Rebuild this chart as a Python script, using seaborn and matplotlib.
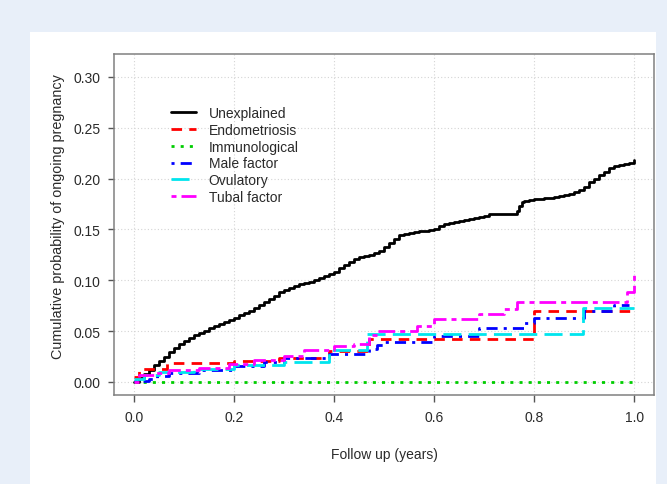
import matplotlib
matplotlib.use("Agg")
import matplotlib.pyplot as plt
from matplotlib.patches import Rectangle
import seaborn as sns
import pandas as pd

# ---- data ----
unexpl_t = [0, 0.01, 0.02, 0.03, 0.04, 0.05, 0.06, 0.07, 0.08, 0.09,
            0.10, 0.11, 0.12, 0.13, 0.14, 0.15, 0.16, 0.17, 0.18, 0.19,
            0.20, 0.21, 0.22, 0.23, 0.24, 0.25, 0.26, 0.27, 0.28, 0.29,
            0.30, 0.31, 0.32, 0.33, 0.34, 0.35, 0.36, 0.37, 0.38, 0.39,
            0.40, 0.41, 0.42, 0.43, 0.44, 0.45, 0.46, 0.47, 0.48, 0.49,
            0.50, 0.51, 0.52, 0.53, 0.54, 0.55, 0.56, 0.57, 0.58, 0.59,
            0.60, 0.61, 0.62, 0.63, 0.64, 0.65, 0.66, 0.67, 0.68, 0.69,
            0.70, 0.71, 0.765, 0.77, 0.775, 0.78, 0.79, 0.80, 0.82, 0.84,
            0.85, 0.86, 0.87, 0.88, 0.89, 0.90, 0.91, 0.92, 0.93, 0.94,
            0.95, 0.96, 0.97, 0.98, 0.99, 1.0]
unexpl_v = [0.000, 0.004, 0.008, 0.012, 0.017, 0.021, 0.025, 0.029, 0.033, 0.037,
            0.040, 0.043, 0.046, 0.048, 0.050, 0.053, 0.055, 0.057, 0.059, 0.061,
            0.063, 0.066, 0.068, 0.070, 0.073, 0.076, 0.079, 0.082, 0.085, 0.088,
            0.090, 0.092, 0.094, 0.096, 0.097, 0.098, 0.100, 0.102, 0.104, 0.106,
            0.108, 0.112, 0.115, 0.118, 0.121, 0.123, 0.124, 0.125, 0.127, 0.129,
            0.133, 0.137, 0.141, 0.144, 0.145, 0.146, 0.147, 0.148, 0.148, 0.149,
            0.150, 0.153, 0.155, 0.156, 0.157, 0.158, 0.159, 0.160, 0.161, 0.162,
            0.163, 0.165, 0.168, 0.173, 0.177, 0.178, 0.179, 0.180, 0.181, 0.182,
            0.183, 0.184, 0.185, 0.187, 0.189, 0.192, 0.197, 0.200, 0.203, 0.206,
            0.210, 0.212, 0.213, 0.214, 0.215, 0.218]

endo_t = [0, 0.01, 0.065, 0.20, 0.29, 0.39, 0.47, 0.80, 1.0]
endo_v = [0.005, 0.013, 0.019, 0.021, 0.024, 0.030, 0.042, 0.070, 0.070]

immuno_t = [0, 1.0]
immuno_v = [0.0, 0.0]

male_t = [0, 0.03, 0.045, 0.07, 0.13, 0.20, 0.26, 0.30, 0.39, 0.47, 0.485, 0.50, 0.60, 0.69,
          0.78, 0.80, 0.90, 0.96, 0.99]
male_v = [0.001, 0.003, 0.006, 0.009, 0.012, 0.016, 0.020, 0.024, 0.028, 0.032, 0.036, 0.039,
          0.045, 0.053, 0.058, 0.063, 0.070, 0.076, 0.076]

ovul_t = [0, 0.02, 0.05, 0.12, 0.20, 0.30, 0.39, 0.465, 0.898, 1.0]
ovul_v = [0.003, 0.007, 0.0095, 0.013, 0.017, 0.020, 0.031, 0.047, 0.073, 0.073]

tubal_t = [0, 0.01, 0.04, 0.07, 0.13, 0.19, 0.24, 0.30, 0.34, 0.40, 0.44, 0.47, 0.485, 0.565,
           0.60, 0.69, 0.74, 0.765, 0.985, 1.0]
tubal_v = [0.000, 0.007, 0.009, 0.012, 0.014, 0.018, 0.022, 0.026, 0.031, 0.035, 0.037, 0.046,
           0.050, 0.055, 0.062, 0.067, 0.072, 0.079, 0.088, 0.106]

labels = ["Unexplained", "Endometriosis", "Immunological", "Male factor", "Ovulatory", "Tubal factor"]
series = [(unexpl_t, unexpl_v), (endo_t, endo_v), (immuno_t, immuno_v),
          (male_t, male_v), (ovul_t, ovul_v), (tubal_t, tubal_v)]
colors = ["#000000", "#ff0000", "#00cd00", "#0000ff", "#00e5ee", "#ff00ff"]
styles = ["-", (0, (3.8, 2.6)), (0, (1.1, 2.2)), (0, (1.1, 2.2, 4.0, 2.2)),
          (0, (6.5, 2.6)), (0, (1.8, 1.8, 6.0, 1.8))]

xticks = [0.0, 0.2, 0.4, 0.6, 0.8, 1.0]
yticks = [0.00, 0.05, 0.10, 0.15, 0.20, 0.25, 0.30]

# ---- styling ----
sns.set_style("white")
plt.rcParams["font.family"] = ["Liberation Sans", "DejaVu Sans"]
txt = "#2a2a2a"

W, H = 667, 485
fig = plt.figure(figsize=(W / 100, H / 100), dpi=100, facecolor="#e8eff9")
panel = Rectangle((30 / W, 0), (656 - 30) / W, (H - 33) / H,
                  transform=fig.transFigure, facecolor="white",
                  edgecolor="none", zorder=-10)
fig.add_artist(panel)

ax = fig.add_axes([114.4 / W, 1 - 395.6 / H, 540 / W, 340.6 / H])
ax.set_zorder(5)
ax.set_facecolor("white")

for (t, v), lab, col, ls in zip(series, labels, colors, styles):
    df = pd.DataFrame({"t": t, "v": v})
    sns.lineplot(data=df, x="t", y="v", ax=ax, estimator=None, sort=False,
                 drawstyle="steps-post", color=col, linestyle=ls, linewidth=2.0,
                 label=lab, legend=False)

ax.set_xlim(-0.04, 1.04)
ax.set_ylim(-0.0124, 0.3224)
ax.set_xticks(xticks)
ax.set_xticklabels([f"{x:.1f}" for x in xticks])
ax.set_yticks(yticks)
ax.set_yticklabels([f"{y:.2f}" for y in yticks])
ax.grid(True, color="#d4d4d4", linestyle=(0, (1, 2)), linewidth=0.8)
ax.set_axisbelow(True)

for s in ax.spines.values():
    s.set_visible(True)
    s.set_color("#808080")
    s.set_linewidth(1.1)

ax.tick_params(axis="x", direction="out", length=4.7, width=1.0, color="#555555",
               pad=6.5, labelsize=10, labelcolor=txt, bottom=True)
ax.tick_params(axis="y", direction="out", length=4.5, width=1.0, color="#555555",
               pad=5.5, labelsize=10, labelcolor=txt, left=True)

ax.set_xlabel("Follow up (years)", fontsize=10, color=txt)
ax.xaxis.set_label_coords(0.5, (395.6 - 455) / 340.6)
ax.xaxis.label.set_va("center")
ax.set_ylabel("Cumulative probability of ongoing pregnancy", fontsize=10.4, color=txt)
ax.yaxis.set_label_coords((58 - 114.4) / 540, (395.6 - 217) / 340.6)
ax.yaxis.label.set_va("center")

handles = ax.get_lines()[:len(labels)]
leg = ax.legend(handles, labels, loc="upper left", bbox_to_anchor=(0.105, 0.847),
                frameon=False, borderpad=0, borderaxespad=0, handlelength=1.8,
                handletextpad=0.9, labelspacing=0.2, fontsize=10)
for tx in leg.get_texts():
    tx.set_color(txt)

fig.savefig("out.png", dpi=100, facecolor=fig.get_facecolor())
